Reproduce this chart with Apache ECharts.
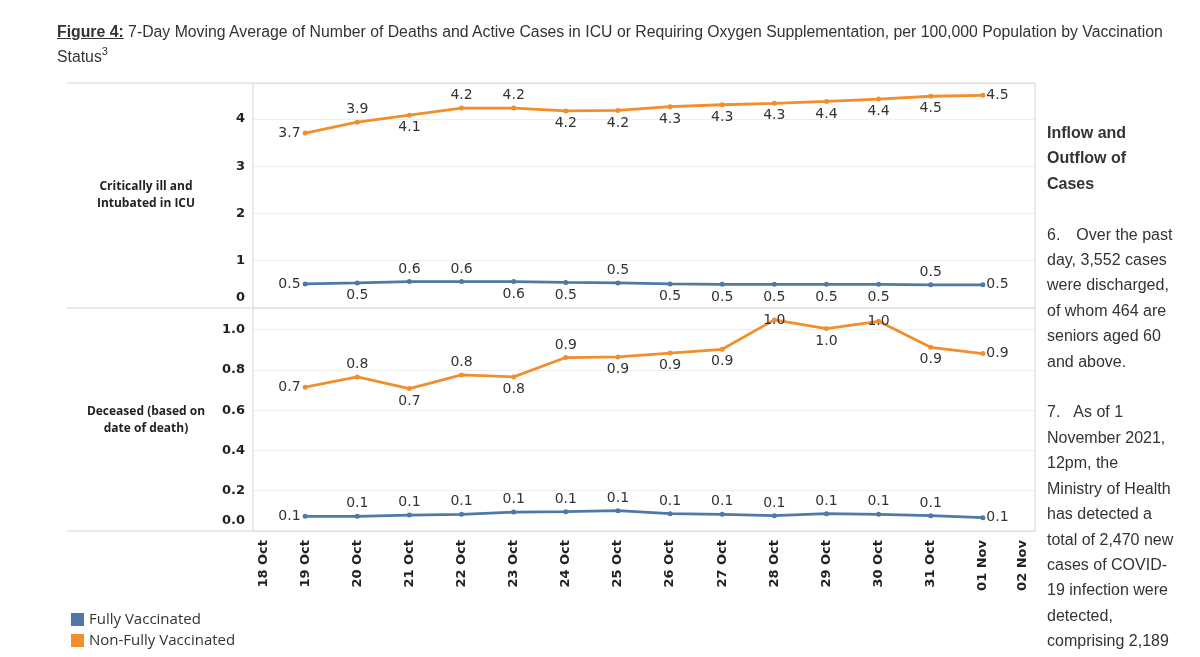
<!DOCTYPE html>
<html>
<head>
<meta charset="utf-8">
<script src="https://cdn.jsdelivr.net/npm/echarts@6/dist/echarts.min.js"></script>
<style>
  html, body { margin: 0; padding: 0; background: #fff; }
  #wrap { position: relative; width: 1200px; height: 657px; overflow: hidden; }
  #chart { position: absolute; left: 0; top: 0; width: 1200px; height: 657px; }
  #title { position: absolute; left: 57px; top: 20px; font-family: 'Liberation Sans', Arial, sans-serif; font-size: 15.8px; color: #333; line-height: 24.5px; white-space: nowrap; }
  #side { position: absolute; left: 1047px; top: 120px; font-family: 'Liberation Sans', Arial, sans-serif; font-size: 16px; color: #333; line-height: 25.4px; white-space: pre; }
</style>
</head>
<body>
<div id="wrap">
  <div id="chart"></div>
  <div id="title"><b><u>Figure 4:</u></b> 7-Day Moving Average of Number of Deaths and Active Cases in ICU or Requiring Oxygen Supplementation, per 100,000 Population by Vaccination<br>Status<span style="position:relative;top:-7px;font-size:11px;">3</span></div>
  <div id="side"><b>Inflow and
Outflow of
Cases</b>

6.<span style="padding-left:16px"></span>Over the past
day, 3,552 cases
were discharged,
of whom 464 are
seniors aged 60
and above.

7.<span style="padding-left:13px"></span>As of 1
November 2021,
12pm, the
Ministry of Health
has detected a
total of 2,470 new
cases of COVID-
19 infection were
detected,
comprising 2,189</div>
</div>
<script>
// ---- data ----
const dates = ['18 Oct','19 Oct','20 Oct','21 Oct','22 Oct','23 Oct','24 Oct','25 Oct','26 Oct','27 Oct','28 Oct','29 Oct','30 Oct','31 Oct','01 Nov','02 Nov'];
const pointDates = ['19 Oct','20 Oct','21 Oct','22 Oct','23 Oct','24 Oct','25 Oct','26 Oct','27 Oct','28 Oct','29 Oct','30 Oct','31 Oct','01 Nov'];
const seriesNames = ['Fully Vaccinated', 'Non-Fully Vaccinated'];
const rowHeaders = ['Critically ill and\nIntubated in ICU', 'Deceased (based on\ndate of death)'];

const icuFully      = [0.51, 0.53, 0.56, 0.56, 0.56, 0.54, 0.53, 0.51, 0.50, 0.50, 0.50, 0.50, 0.49, 0.49];
const icuNonFully   = [3.70, 3.93, 4.08, 4.23, 4.23, 4.17, 4.18, 4.26, 4.30, 4.33, 4.37, 4.42, 4.48, 4.50];
const deathFully    = [0.073, 0.073, 0.079, 0.083, 0.094, 0.096, 0.101, 0.086, 0.083, 0.076, 0.086, 0.083, 0.076, 0.066];
const deathNonFully = [0.714, 0.765, 0.707, 0.775, 0.765, 0.861, 0.864, 0.883, 0.902, 1.048, 1.005, 1.041, 0.912, 0.881];

// ---- label placement (style) ----
const posIcuFully    = ['left','bottom','top','top','bottom','bottom','top','bottom','bottom','bottom','bottom','bottom','top','right'];
const posIcuNon      = ['left','top','bottom','top','top','bottom','bottom','bottom','bottom','bottom','bottom','bottom','bottom','right'];
const posDeathFully  = ['left','top','top','top','top','top','top','top','top','top','top','top','top','right'];
const posDeathNon    = ['left','top','bottom','top','bottom','top','bottom','bottom','bottom','inside','bottom','inside','bottom','right'];

const BLUE = '#4e79a7', ORANGE = '#f28e2b';
const GL = 253, GR = 1035, TOP1 = 83, MID = 308, BOT = 531;

function mk(values, positions) {
  return values.map((v, i) => {
    const p = positions[i];
    const dist = p === 'right' ? 1 : (p === 'left' ? 2 : 3);
    return { value: [pointDates[i], v], label: { position: p, distance: dist } };
  });
}

function lineSeries(name, color, values, positions, idx) {
  return {
    name: name,
    type: 'line',
    xAxisIndex: idx,
    yAxisIndex: idx,
    data: mk(values, positions),
    symbol: 'circle',
    symbolSize: 5,
    color: color,
    lineStyle: { width: 2.8, color: color },
    itemStyle: { color: color },
    label: {
      show: true,
      fontFamily: 'DejaVu Sans',
      fontSize: 14,
      color: '#333',
      formatter: p => p.value[1].toFixed(1)
    },
    emphasis: { disabled: true },
    animation: false
  };
}

const yLabelBase = {
  fontFamily: 'DejaVu Sans',
  fontWeight: 'bold',
  fontSize: 13,
  color: '#222',
  margin: 8,
  rich: { z: { fontFamily: 'DejaVu Sans', fontWeight: 'bold', fontSize: 13, color: '#222', padding: [0, 0, 20, 0] } }
};

const chart = echarts.init(document.getElementById('chart'), null, { renderer: 'canvas' });

const hline = (y) => ({ type: 'line', shape: { x1: 67, y1: y, x2: GR, y2: y }, style: { stroke: '#d4d4d4', lineWidth: 1 }, silent: true, z: 10 });
const vline = (x) => ({ type: 'line', shape: { x1: x, y1: TOP1, x2: x, y2: BOT }, style: { stroke: '#d4d4d4', lineWidth: 1 }, silent: true, z: 10 });

chart.setOption({
  backgroundColor: '#fff',
  animation: false,
  legend: {
    data: seriesNames,
    orient: 'vertical',
    left: 66,
    top: 607,
    icon: 'rect',
    itemWidth: 13,
    itemHeight: 13,
    itemGap: 6,
    selectedMode: false,
    textStyle: { fontFamily: 'Open Sans', fontSize: 15, lineHeight: 15, color: '#333' }
  },
  grid: [
    { left: GL, top: TOP1, width: GR - GL, height: MID - TOP1 },
    { left: GL, top: MID, width: GR - GL, height: BOT - MID }
  ],
  xAxis: [
    { type: 'category', gridIndex: 0, data: dates, boundaryGap: false,
      axisLine: { show: false }, axisTick: { show: false }, axisLabel: { show: false }, splitLine: { show: false } },
    { type: 'category', gridIndex: 1, data: dates, boundaryGap: false,
      axisLine: { show: false }, axisTick: { show: false }, splitLine: { show: false },
      axisLabel: {
        interval: 0, rotate: 90, margin: 9,
        fontFamily: 'DejaVu Sans', fontWeight: 'bold', fontSize: 13, color: '#222',
        formatter: (v, i) => i === 0 ? '{a|' + v + '}' : (i === dates.length - 1 ? '{b|' + v + '}' : v),
        rich: {
          a: { fontFamily: 'DejaVu Sans', fontWeight: 'bold', fontSize: 13, color: '#222', padding: [22, 0, 0, 0] },
          b: { fontFamily: 'DejaVu Sans', fontWeight: 'bold', fontSize: 13, color: '#222', padding: [0, 0, 24, 0] }
        }
      } }
  ],
  yAxis: [
    { type: 'value', gridIndex: 0, min: 0, max: 4.76, interval: 1,
      axisLine: { show: false }, axisTick: { show: false },
      splitLine: { show: true, lineStyle: { color: '#eeeeee', width: 1 } },
      axisLabel: Object.assign({}, yLabelBase, { showMaxLabel: false, formatter: v => v === 0 ? '{z|0}' : String(v) }) },
    { type: 'value', gridIndex: 1, min: 0, max: 1.107, interval: 0.2,
      axisLine: { show: false }, axisTick: { show: false },
      splitLine: { show: true, lineStyle: { color: '#eeeeee', width: 1 } },
      axisLabel: Object.assign({}, yLabelBase, { showMaxLabel: false, formatter: v => v === 0 ? '{z|0.0}' : v.toFixed(1) }) }
  ],
  graphic: [
    hline(TOP1), hline(MID), hline(BOT), vline(GL), vline(GR),
    { type: 'text', silent: true,
      style: { text: rowHeaders[0], x: 146, y: 195, align: 'center', verticalAlign: 'middle',
               fontFamily: 'Open Sans', fontWeight: 'bold', fontSize: 12, lineHeight: 17, fill: '#222' } },
    { type: 'text', silent: true,
      style: { text: rowHeaders[1], x: 146, y: 420, align: 'center', verticalAlign: 'middle',
               fontFamily: 'Open Sans', fontWeight: 'bold', fontSize: 12, lineHeight: 17, fill: '#222' } }
  ],
  series: [
    lineSeries(seriesNames[0], BLUE, icuFully, posIcuFully, 0),
    lineSeries(seriesNames[1], ORANGE, icuNonFully, posIcuNon, 0),
    lineSeries(seriesNames[0], BLUE, deathFully, posDeathFully, 1),
    lineSeries(seriesNames[1], ORANGE, deathNonFully, posDeathNon, 1)
  ]
});
</script>
</body>
</html>
